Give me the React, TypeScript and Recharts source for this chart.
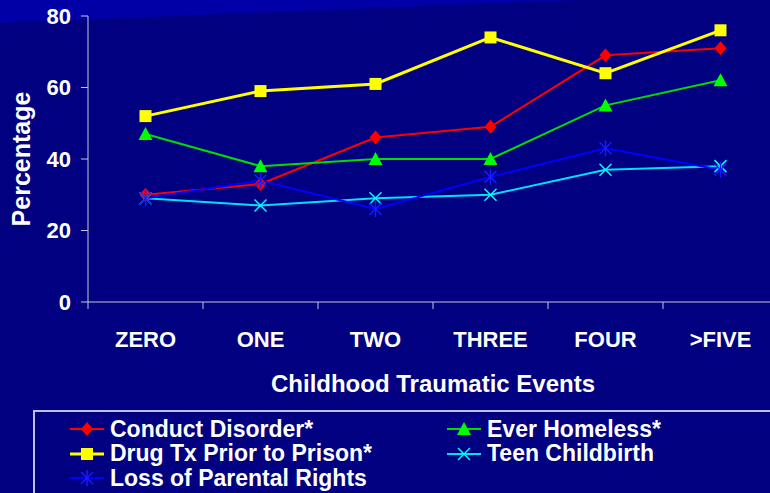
import React from "react";
import { LineChart, Line, XAxis, YAxis } from "recharts";

const categories = ["ZERO", "ONE", "TWO", "THREE", "FOUR", ">FIVE"];
const conductDisorder = [30, 33, 46, 49, 69, 71];
const everHomeless = [47, 38, 40, 40, 55, 62];
const drugTx = [52, 59, 61, 74, 64, 76];
const teenChildbirth = [29, 27, 29, 30, 37, 38];
const parentalRights = [29, 34, 26, 35, 43, 37];
const yTicks = [0, 20, 40, 60, 80];

const data = categories.map((name, i) => ({
  x: i + 0.5,
  name,
  conduct: conductDisorder[i],
  homeless: everHomeless[i],
  drug: drugTx[i],
  teen: teenChildbirth[i],
  parental: parentalRights[i],
}));

const FONT = "'Liberation Sans', Arial, sans-serif";
const AXIS = "#c8c8dc";
const CHART_W = 780;
const PLOT_LEFT = 88;
const PLOT_RIGHT = 2;
const BAND = (CHART_W - PLOT_LEFT - PLOT_RIGHT) / categories.length;

// marker shapes
const Diamond = ({ cx, cy, color }: any) => (
  <polygon
    points={`${cx},${cy - 7} ${cx + 6},${cy} ${cx},${cy + 7} ${cx - 6},${cy}`}
    fill={color}
  />
);
const Square = ({ cx, cy, color }: any) => (
  <rect x={cx - 6} y={cy - 6} width={12} height={12} fill={color} />
);
const Triangle = ({ cx, cy, color }: any) => (
  <polygon
    points={`${cx},${cy - 7} ${cx + 7},${cy + 6} ${cx - 7},${cy + 6}`}
    fill={color}
  />
);
const Cross = ({ cx, cy, color }: any) => (
  <g stroke={color} strokeWidth={1.5}>
    <line x1={cx - 6} y1={cy - 6} x2={cx + 6} y2={cy + 6} />
    <line x1={cx - 6} y1={cy + 6} x2={cx + 6} y2={cy - 6} />
  </g>
);
const Star = ({ cx, cy, color }: any) => (
  <g stroke={color} strokeWidth={1.5}>
    <line x1={cx - 6} y1={cy - 6} x2={cx + 6} y2={cy + 6} />
    <line x1={cx - 6} y1={cy + 6} x2={cx + 6} y2={cy - 6} />
    <line x1={cx} y1={cy - 8} x2={cx} y2={cy + 8} />
  </g>
);

const series = [
  { key: "conduct", label: "Conduct Disorder*", color: "#ff0000", line: "#ff0000", width: 2, Shape: Diamond },
  { key: "drug", label: "Drug Tx Prior to Prison*", color: "#ffff00", line: "#ffff00", width: 3, Shape: Square },
  { key: "homeless", label: "Ever Homeless*", color: "#00ff00", line: "#00dd00", width: 2, Shape: Triangle },
  { key: "teen", label: "Teen Childbirth", color: "#00ffff", line: "#00e0ff", width: 2, Shape: Cross },
  { key: "parental", label: "Loss of Parental Rights", color: "#1a1aff", line: "#0000ff", width: 2, Shape: Star },
];

const legendOrder = ["conduct", "homeless", "drug", "teen", "parental"];

const XTick = (props: any) => {
  const { x, payload } = props;
  const idx = payload.value;
  if (idx >= categories.length) return null;
  return (
    <text
      x={x + BAND / 2}
      y={347}
      textAnchor="middle"
      fill="#ffffff"
      fontFamily={FONT}
      fontWeight="bold"
      fontSize={22}
    >
      {categories[idx]}
    </text>
  );
};

const LegendSymbol = ({ s }: any) => (
  <svg width={34} height={20} style={{ marginRight: 6, flex: "none" }}>
    <line x1={0} y1={10} x2={34} y2={10} stroke={s.line} strokeWidth={s.width} />
    <s.Shape cx={17} cy={10} color={s.color} />
  </svg>
);

export default function App() {
  return (
    <div
      style={{
        position: "absolute",
        left: 0,
        top: 0,
        width: 770,
        height: 493,
        overflow: "hidden",
        background: "#000080",
        fontFamily: FONT,
      }}
    >
      <svg width={770} height={493} style={{ position: "absolute", left: 0, top: 0 }}>
        <polygon points="0,0 580,0 0,23" fill="#0000a6" />
      </svg>
      <div style={{ position: "absolute", left: 0, top: 0 }}>
        <LineChart
          width={CHART_W}
          height={493}
          data={data}
          margin={{ top: 16, right: PLOT_RIGHT, bottom: 131, left: 0 }}
        >
          <XAxis
            dataKey="x"
            type="number"
            domain={[0, categories.length]}
            ticks={[0, 1, 2, 3, 4, 5, 6]}
            interval={0}
            height={60}
            stroke={AXIS}
            tickSize={7}
            tick={<XTick />}
            label={{
              value: "Childhood Traumatic Events",
              position: "bottom",
              offset: 13,
              fill: "#ffffff",
              fontFamily: FONT,
              fontWeight: "bold",
              fontSize: 24,
            }}
          />
          <YAxis
            domain={[0, 80]}
            ticks={yTicks}
            width={PLOT_LEFT}
            stroke={AXIS}
            tickSize={7}
            tickMargin={10}
            tick={{ fill: "#ffffff", fontFamily: FONT, fontWeight: "bold", fontSize: 22 }}
            label={{
              value: "Percentage",
              angle: -90,
              position: "insideLeft",
              offset: 21,
              fill: "#ffffff",
              fontFamily: FONT,
              fontWeight: "bold",
              fontSize: 25,
              style: { textAnchor: "middle" },
            }}
          />
          {series.map((s) => (
            <Line
              key={s.key}
              type="linear"
              dataKey={s.key}
              stroke={s.line}
              strokeWidth={s.width}
              isAnimationActive={false}
              dot={(p: any) => <s.Shape key={`${s.key}-${p.index}`} cx={p.cx} cy={p.cy} color={s.color} />}
              activeDot={false}
            />
          ))}
        </LineChart>
      </div>
      <div
        style={{
          position: "absolute",
          left: 33,
          top: 410,
          width: 760,
          height: 120,
          border: "2px solid #c0c0d4",
          boxSizing: "border-box",
        }}
      >
        <div
          style={{
            position: "absolute",
            left: 35,
            top: 5,
            display: "grid",
            gridTemplateColumns: "377px 300px",
            rowGap: 0,
          }}
        >
          {legendOrder.map((k) => {
            const s = series.find((e) => e.key === k)!;
            return (
              <div
                key={k}
                style={{
                  display: "flex",
                  alignItems: "center",
                  height: 24.5,
                  color: "#ffffff",
                  fontWeight: "bold",
                  fontSize: 23,
                  whiteSpace: "nowrap",
                }}
              >
                <LegendSymbol s={s} />
                {s.label}
              </div>
            );
          })}
        </div>
      </div>
    </div>
  );
}
